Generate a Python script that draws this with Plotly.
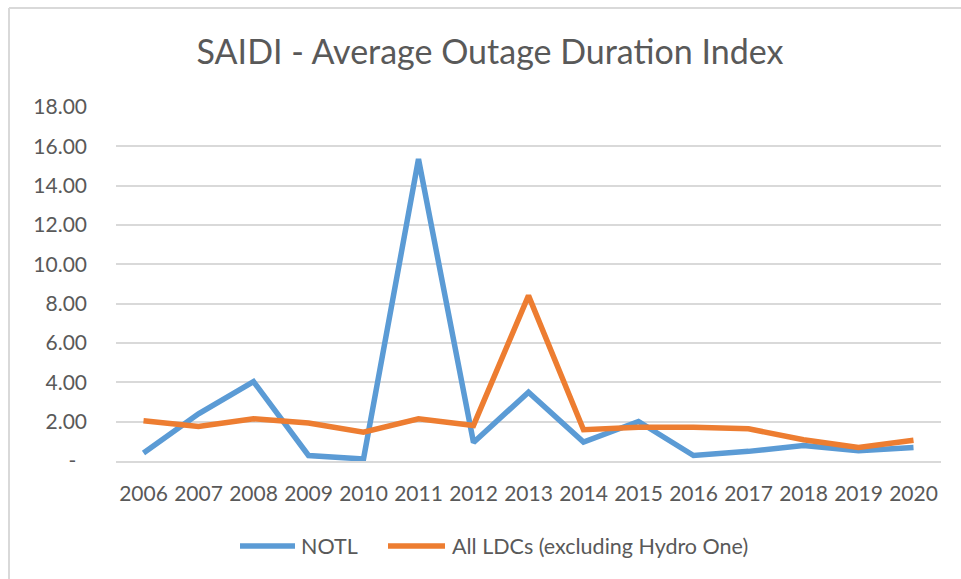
import plotly.graph_objects as go

years = ["2006", "2007", "2008", "2009", "2010", "2011", "2012", "2013",
         "2014", "2015", "2016", "2017", "2018", "2019", "2020"]
notl = [0.41, 2.40, 4.04, 0.28, 0.10, 15.35, 0.94, 3.50,
        0.96, 2.01, 0.28, 0.49, 0.79, 0.52, 0.69]
all_ldcs = [2.05, 1.76, 2.15, 1.93, 1.47, 2.15, 1.81, 8.41,
            1.59, 1.71, 1.71, 1.64, 1.08, 0.69, 1.05]
series_names = ["NOTL", "All LDCs (excluding Hydro One)"]
series_colors = ["#5B9BD5", "#ED7D31"]
y_ticks = [0, 2, 4, 6, 8, 10, 12, 14, 16, 18]
y_ticktext = ["-\u00a0\u00a0"] + [f"{v:.2f}" for v in y_ticks[1:]]

FONT = "Lato"
GREY = "#595959"
BORDER = "#d9d9d9"

W, H = 961, 579
L, R, T, B = 116, 20, 107, 118
PW, PH = W - L - R, H - T - B


def px_x(x):
    return (x - L) / PW


def px_y(y):
    return (H - B - y) / PH


fig = go.Figure()
for vals, name, color in zip([notl, all_ldcs], series_names, series_colors):
    fig.add_trace(go.Scatter(x=years, y=vals, mode="lines", name=name,
                             line=dict(color=color, width=5.5)))

fig.update_layout(
    width=W, height=H,
    margin=dict(l=L, r=R, t=T, b=B, autoexpand=False),
    paper_bgcolor="white", plot_bgcolor="white",
    font=dict(family=FONT, color=GREY, size=21),
    title=dict(text="SAIDI - Average Outage Duration Index",
               x=px_x(490), xref="paper", xanchor="center",
               y=1 - 52 / H, yanchor="middle",
               font=dict(family=FONT, size=34, color=GREY)),
    showlegend=False,
)
fig.update_xaxes(range=[-0.5, 14.5], showgrid=False, showline=True,
                 linecolor=BORDER, linewidth=1.5, ticks="",
                 tickfont=dict(size=21, color=GREY), ticklabelstandoff=13)
fig.update_yaxes(range=[0, 18], tickvals=y_ticks, ticktext=y_ticktext,
                 showgrid=True, gridcolor=BORDER, gridwidth=1.5,
                 zeroline=False, showline=False, ticks="",
                 tickfont=dict(size=21, color=GREY), ticklabelstandoff=28)

# Custom legend (longer swatches like the reference)
legend_items = [(240, 295, 299), (388, 445, 450)]
for (x0, x1, tx), name, color in zip(legend_items, series_names, series_colors):
    fig.add_shape(type="line", xref="paper", yref="paper",
                  x0=px_x(x0), x1=px_x(x1), y0=px_y(546), y1=px_y(546),
                  line=dict(color=color, width=5.5))
    fig.add_annotation(text=name, xref="paper", yref="paper",
                       x=px_x(tx), y=px_y(546), xanchor="left",
                       yanchor="middle", showarrow=False,
                       font=dict(family=FONT, size=21.5, color=GREY))

# Chart-area border (left and top edges visible in reference)
fig.add_shape(type="line", xref="paper", yref="paper",
              x0=px_x(9), x1=px_x(W + 10), y0=px_y(8), y1=px_y(8),
              line=dict(color=BORDER, width=2))
fig.add_shape(type="line", xref="paper", yref="paper",
              x0=px_x(9), x1=px_x(9), y0=px_y(8), y1=px_y(H + 10),
              line=dict(color=BORDER, width=2))

fig.write_html("out.html", config={"displayModeBar": False},
               post_script="document.body.style.margin='0';")
